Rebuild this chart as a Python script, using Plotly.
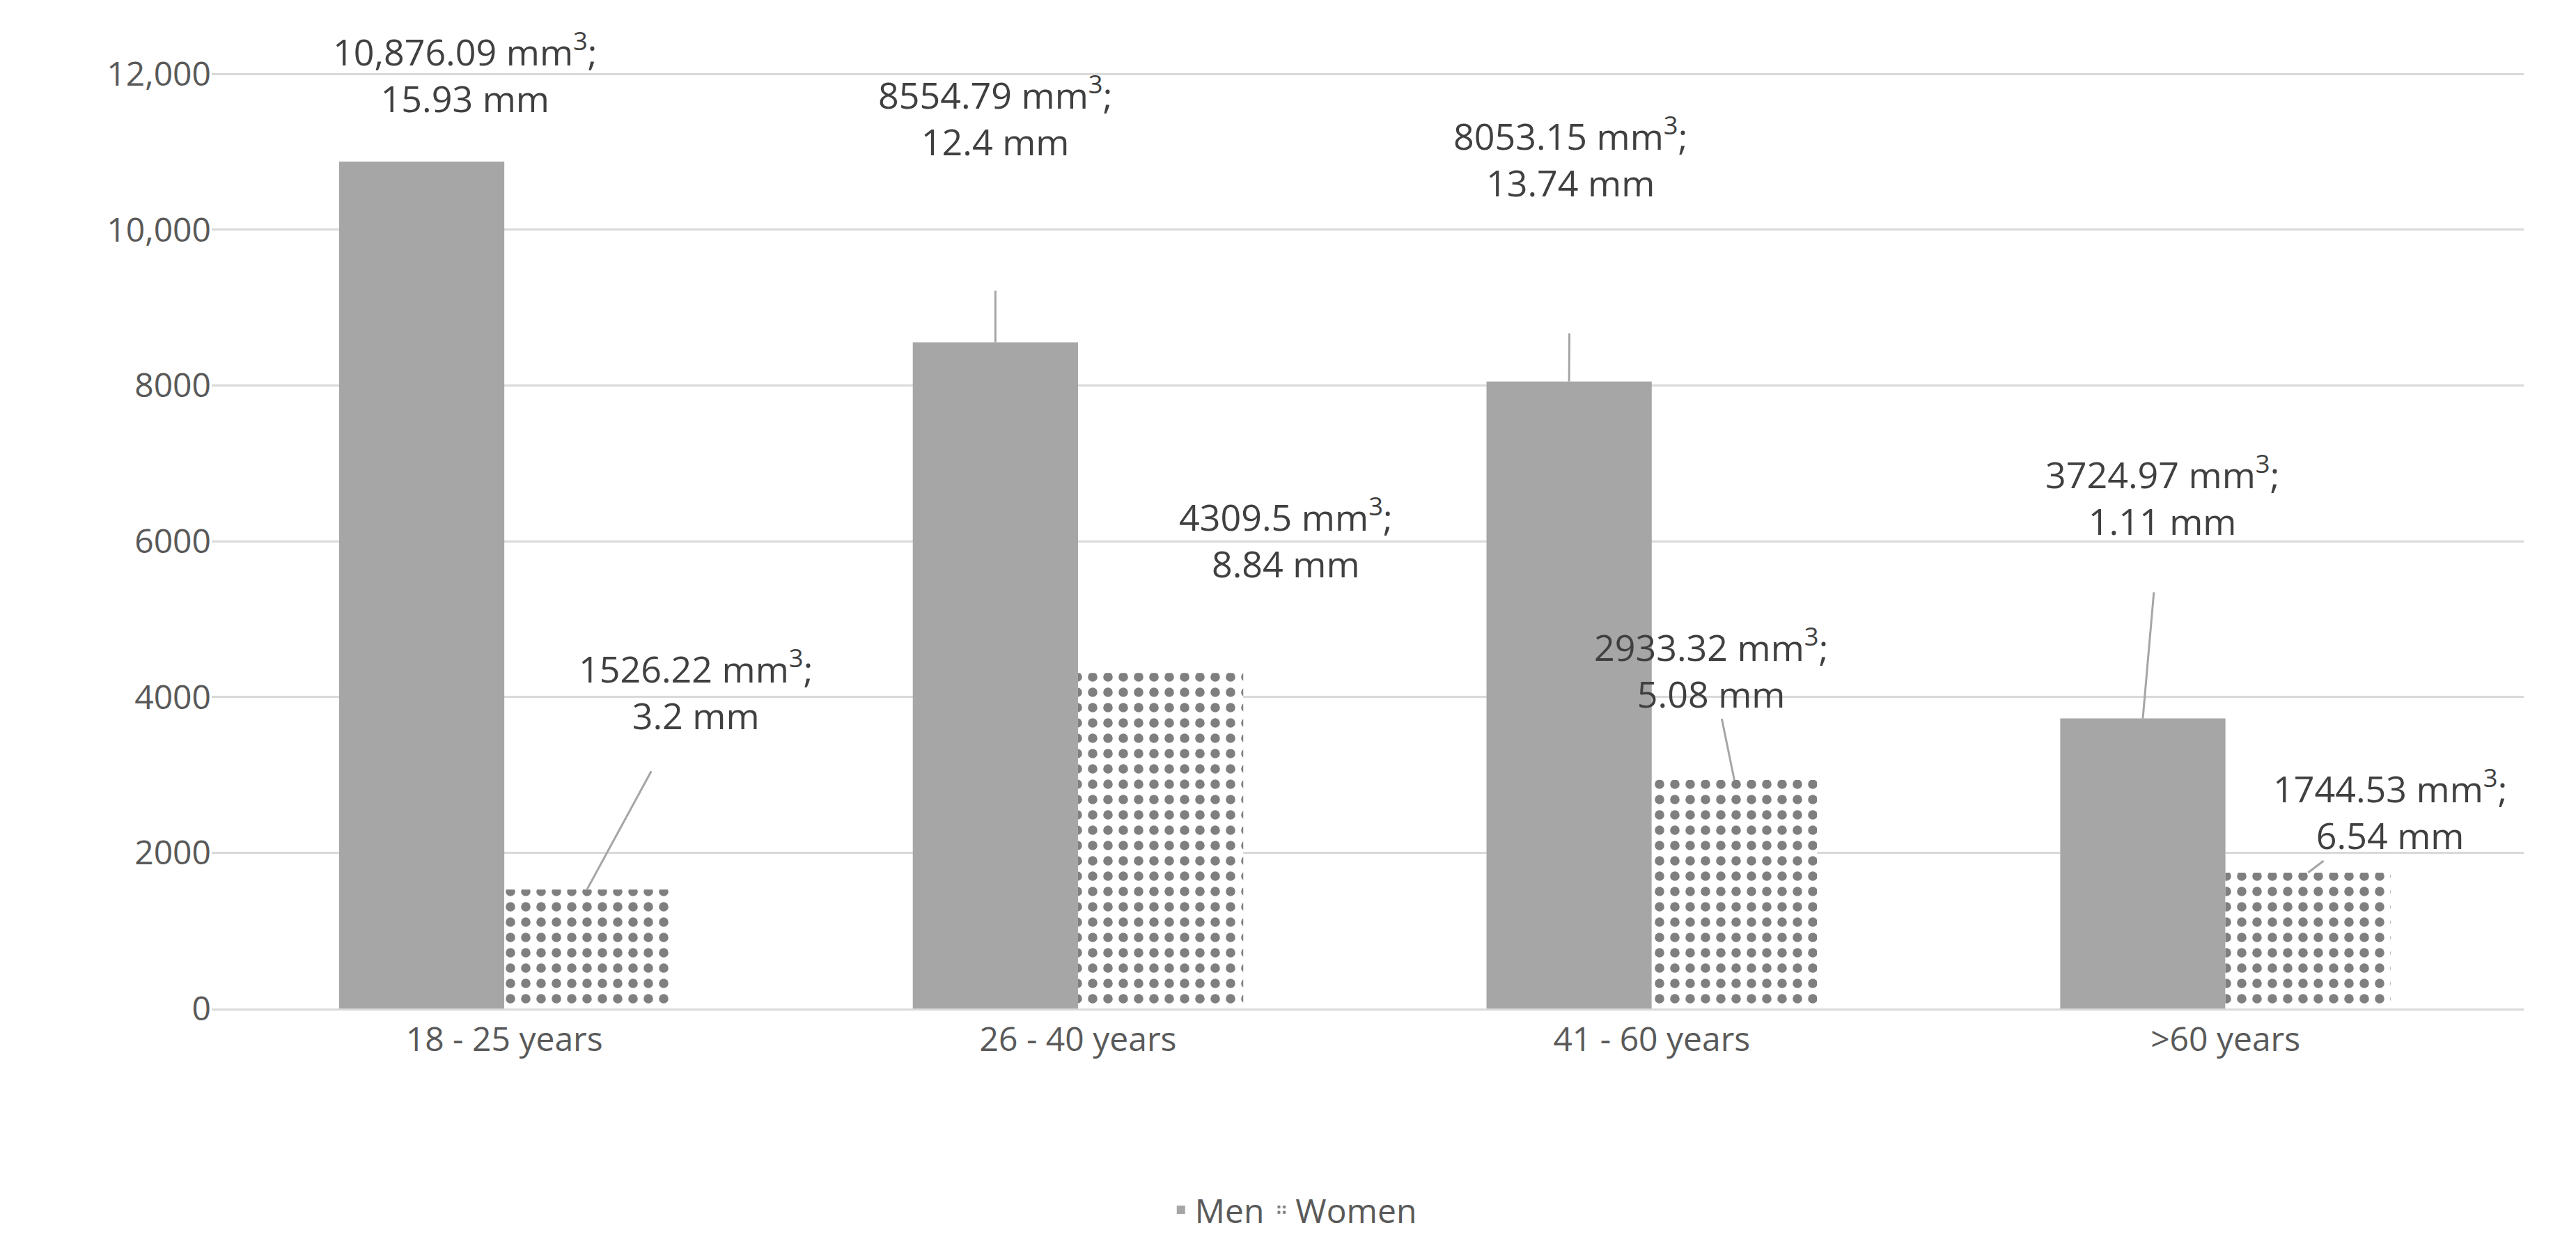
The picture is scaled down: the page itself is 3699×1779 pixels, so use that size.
import plotly.graph_objects as go

categories = ["18 - 25 years", "26 - 40 years", "41 - 60 years", ">60 years"]
men = [10876.09, 8554.79, 8053.15, 3724.97]
women = [1526.22, 4309.5, 2933.32, 1744.53]
men_mm = ["15.93", "12.4", "13.74", "1.11"]
women_mm = ["3.2", "8.84", "5.08", "6.54"]
men_txt = ["10,876.09", "8554.79", "8053.15", "3724.97"]
women_txt = ["1526.22", "4309.5", "2933.32", "1744.53"]

w = 0.288
xs = list(range(len(categories)))
fig = go.Figure()
fig.add_bar(x=xs, y=men, name="Men", width=w, offset=-w, marker=dict(color="#a6a6a6", line=dict(width=0)))
fig.add_bar(x=xs, y=women, name="Women", width=w, offset=0,
            marker=dict(color="white", line=dict(width=0),
                        pattern=dict(shape=".", fgcolor="black", bgcolor="white", size=22, solidity=0.3)))

men_off = [(62, -128, 0, False), (0, -325, 178, True), (2, -322, 180, True), (28, -320, 66, True)]
women_off = [(156, -287, 50, True), (180, -194, 0, False), (-33, -161, 0, True), (118, -90, 0, True)]
for i in xs:
    for (val, txt, mm, off, xpos) in [(men[i], men_txt[i], men_mm[i], men_off[i], i - w/2),
                                       (women[i], women_txt[i], women_mm[i], women_off[i], i + w/2)]:
        ax, ay, ss, show = off
        fig.add_annotation(x=xpos, y=val, text=f"{txt} mm<sup>3</sup>;<br>{mm} mm",
                           showarrow=True, arrowhead=0, arrowwidth=3,
                           arrowcolor="#a6a6a6" if show else "rgba(0,0,0,0)",
                           ax=ax, ay=ay, startstandoff=ss,
                           font=dict(size=52, color="#404040", family="Open Sans"))

fig.update_layout(
    width=3699, height=1779, plot_bgcolor="white", paper_bgcolor="white",
    margin=dict(l=296, r=83, t=95, b=309),
    barmode="overlay", font=dict(family="Open Sans", size=48, color="#595959"),
    xaxis=dict(range=[-0.51, 3.52], tickvals=xs, ticktext=categories, showgrid=False,
               showline=True, linecolor="#d9d9d9", linewidth=3, ticks="", ticklen=10, tickcolor="white"),
    yaxis=dict(range=[0, 12030], tickvals=[0, 2000, 4000, 6000, 8000, 10000, 12000],
               ticktext=["0", "2000", "4000", "6000", "8000", "10,000", "12,000"],
               gridcolor="#d9d9d9", gridwidth=3, zeroline=False, ticks="", ticklen=20, tickcolor="white"),
    legend=dict(orientation="h", x=0.468, xanchor="center", y=-0.215, yanchor="middle",
                font=dict(size=48, color="#595959")),
)
fig.write_html("out.html")
